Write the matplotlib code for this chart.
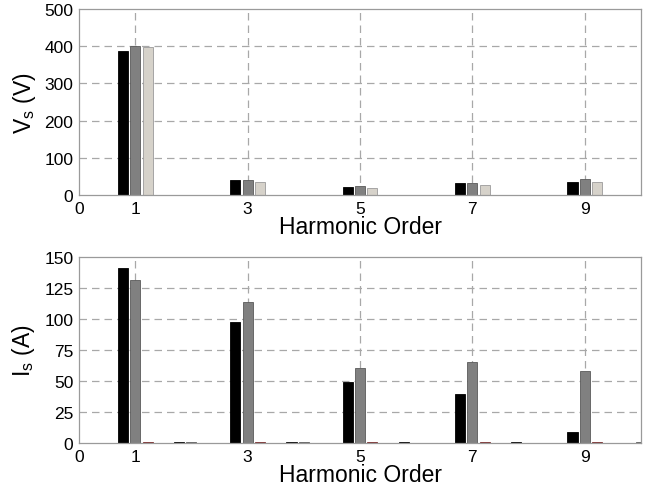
import matplotlib
matplotlib.use('Agg')
from matplotlib import pyplot as plt
import numpy as np

plt.rcParams['font.family'] = ['Liberation Sans', 'DejaVu Sans']
plt.rcParams['mathtext.fontset'] = 'custom'
plt.rcParams['mathtext.rm'] = 'Liberation Sans'

harmonics = [1, 2, 3, 4, 5, 6, 7, 8, 9, 10]

# supply voltage spectrum (three cases)
vs_black = [387, 1, 40, 1, 21, 1, 31, 1, 36, 1]
vs_gray = [400, 1, 40, 0, 23, 0, 33, 1, 43, 1]
vs_light = [397, 1, 36, 0, 18, 0, 27, 1, 34, 0]

# supply current spectrum
is_black = [141, 0.6, 97.5, 0.6, 49.5, 0.6, 39.6, 0.6, 9.1, 0]
is_gray = [132, 0.6, 113.6, 0.6, 60.3, 0, 65.7, 0, 58.2, 0.6]
is_red = [0.7, 0, 0.7, 0, 0.7, 0, 0.7, 0, 0.7, 0]

xticks = [0, 1, 3, 5, 7, 9]
grid_col = '#a8a8a8'
spine_col = '#9a9a9a'


def style_axes(ax, ymax, yticks, ylabel):
    ax.set_xlim(0, 10)
    ax.set_ylim(0, ymax)
    ax.set_xticks(xticks)
    ax.set_yticks(yticks)
    ax.tick_params(length=0, labelsize=12.5, pad=4)
    for sp in ax.spines.values():
        sp.set_color(spine_col)
        sp.set_linewidth(0.9)
    for x in [1, 3, 5, 7, 9]:
        ax.axvline(x, color=grid_col, ls=(0, (6, 4)), lw=0.9, zorder=0)
    for y in yticks[1:-1]:
        ax.axhline(y, color=grid_col, ls=(0, (6, 4)), lw=0.9, zorder=0)
    ax.set_xlabel('Harmonic Order', fontsize=16.5, labelpad=-0.5)
    ax.set_ylabel(ylabel, fontsize=16.5, labelpad=5)


x = np.array(harmonics)
w = 0.18
d = 0.22

fig = plt.figure(figsize=(6.51, 4.89), dpi=100)
ax1 = fig.add_axes([0.1214, 0.5992, 0.8633, 0.3804])
ax1.bar(x - d, vs_black, w, color='black', edgecolor='black', lw=0.6, zorder=2)
ax1.bar(x, vs_gray, w, color='#808080', edgecolor='#5a5a5a', lw=0.6, zorder=2)
ax1.bar(x + d, vs_light, w, color='#d6d2ca', edgecolor='#9a9a9a', lw=0.6, zorder=2)
style_axes(ax1, 500, [0, 100, 200, 300, 400, 500], 'V$_\\mathregular{s}$ (V)')

ax2 = fig.add_axes([0.1214, 0.092, 0.8633, 0.3798])
ax2.bar(x - d, is_black, w, color='black', edgecolor='black', lw=0.6, zorder=2)
ax2.bar(x, is_gray, w, color='#808080', edgecolor='#5a5a5a', lw=0.6, zorder=2)
ax2.bar(x + d, is_red, w, color='#7a2a2a', edgecolor='#7a2a2a', lw=0.6, zorder=2)
style_axes(ax2, 150, [0, 25, 50, 75, 100, 125, 150], 'I$_\\mathregular{s}$ (A)')

fig.savefig('out.png', dpi=100)
